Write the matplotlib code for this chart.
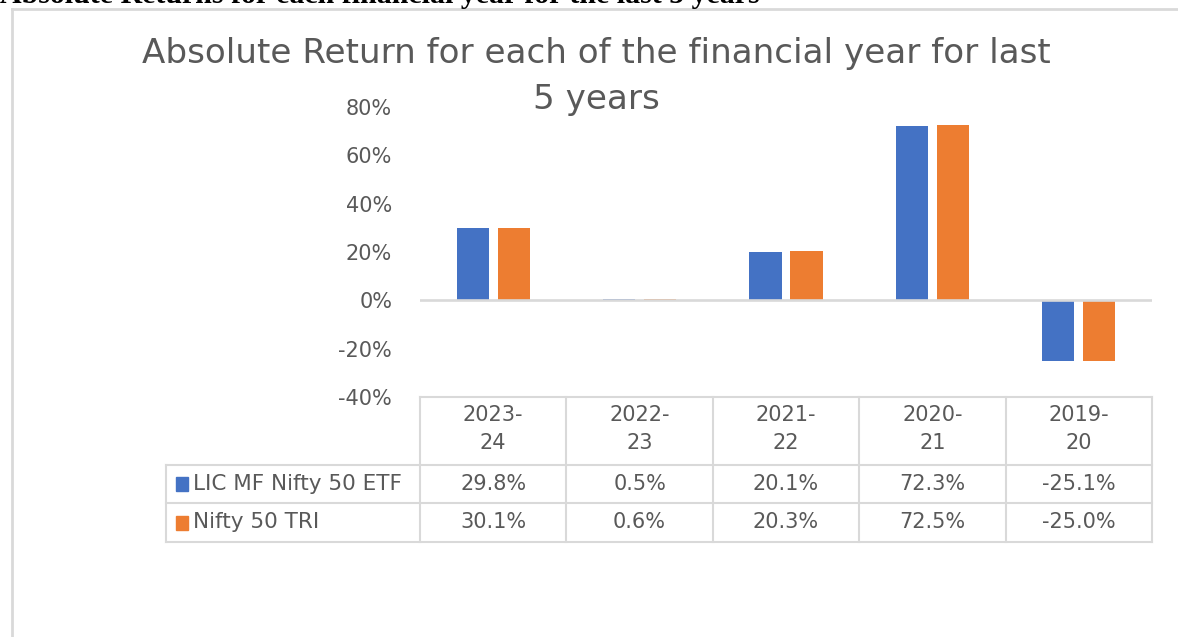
import numpy as np
import matplotlib.pyplot as plt
from matplotlib.lines import Line2D
from matplotlib.patches import Rectangle

# data
years = ['2023-\n24', '2022-\n23', '2021-\n22', '2020-\n21', '2019-\n20']
etf = [29.8, 0.5, 20.1, 72.3, -25.1]
tri = [30.1, 0.6, 20.3, 72.5, -25.0]
series_names = ['LIC MF Nifty 50 ETF', 'Nifty 50 TRI']
yticks = [-40, -20, 0, 20, 40, 60, 80]

BLUE = '#4472C4'
ORANGE = '#ED7D31'
GREY_TXT = '#595959'
GRID = '#d9d9d9'
W, H = 1178, 637

plt.rcParams['font.family'] = ['DejaVu Sans']

fig = plt.figure(figsize=(W / 100, H / 100), dpi=100)


def fx(x):
    return x / W


def fy(y):
    return 1 - y / H


# page header (cut off at the top, as in the source page)
fig.text(0.0, fy(3), 'Absolute Returns for each financial year for the last 5 years',
         family='Liberation Serif', weight='bold', fontsize=21.5, va='baseline', ha='left')

# chart frame
fig.add_artist(Line2D([fx(12), fx(12)], [fy(9), 0], color=GRID, lw=2))
fig.add_artist(Line2D([fx(12), 1], [fy(9), fy(9)], color=GRID, lw=2))

# title
fig.text(fx(596), fy(53), 'Absolute Return for each of the financial year for last',
         ha='center', va='center', fontsize=24.6, color=GREY_TXT)
fig.text(fx(596), fy(99), '5 years', ha='center', va='center', fontsize=24.6, color=GREY_TXT)

# bars
ax = fig.add_axes([fx(420), fy(397), fx(1152) - fx(420), (397 - 107) / H])
x = np.arange(len(years)) + 0.5
ax.bar(x - 0.14, etf, width=0.22, color=BLUE, zorder=2)
ax.bar(x + 0.14, tri, width=0.22, color=ORANGE, zorder=2)
ax.axhline(0, color=GRID, lw=1.9, zorder=3)
ax.set_xlim(0, len(years))
ax.set_ylim(-40, 80)
ax.set_yticks(yticks)
ax.set_yticklabels(['{}%'.format(v) for v in yticks], fontsize=15, color=GREY_TXT)
ax.tick_params(axis='y', length=0, pad=20)
ax.set_xticks([])
for s in ax.spines.values():
    s.set_visible(False)
ax.patch.set_alpha(0)

# data table
col_edges = [420 + 146.4 * i for i in range(len(years) + 1)]
row_edges = [397, 465, 503, 542]
tab_left = 166
lw = 1.5
fig.add_artist(Line2D([fx(420), fx(col_edges[-1])], [fy(397), fy(397)], color=GRID, lw=lw))
for yy in row_edges[1:]:
    fig.add_artist(Line2D([fx(tab_left), fx(col_edges[-1])], [fy(yy), fy(yy)], color=GRID, lw=lw))
fig.add_artist(Line2D([fx(tab_left), fx(tab_left)], [fy(465), fy(542)], color=GRID, lw=lw))
for xx in col_edges:
    fig.add_artist(Line2D([fx(xx), fx(xx)], [fy(397), fy(542)], color=GRID, lw=lw))

for i, lab in enumerate(years):
    cx = (col_edges[i] + col_edges[i + 1]) / 2
    fig.text(fx(cx), fy(429), lab, ha='center', va='center', fontsize=15,
             color=GREY_TXT, linespacing=1.45)

for r, (name, vals, col) in enumerate(zip(series_names, [etf, tri], [BLUE, ORANGE])):
    cy = (row_edges[r + 1] + row_edges[r + 2]) / 2
    fig.add_artist(Rectangle((fx(176), fy(cy + 7)), 12 / W, 14 / H, color=col,
                             transform=fig.transFigure))
    fig.text(fx(193), fy(cy), name, ha='left', va='center', fontsize=15.5, color=GREY_TXT)
    for i, v in enumerate(vals):
        cx = (col_edges[i] + col_edges[i + 1]) / 2
        fig.text(fx(cx), fy(cy), '{:.1f}%'.format(v), ha='center', va='center',
                 fontsize=15, color=GREY_TXT)

fig.savefig('out.png', dpi=100)
